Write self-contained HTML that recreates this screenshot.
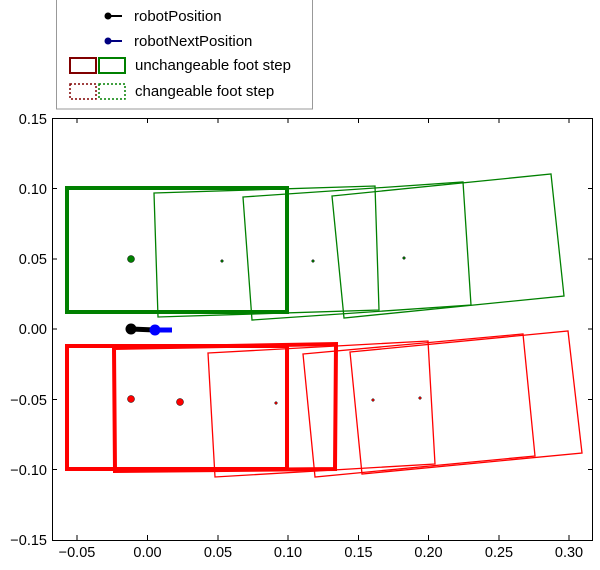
<!DOCTYPE html>
<html><head><style>
html,body{margin:0;padding:0;background:#fff;}
svg text{font-family:"Liberation Sans",sans-serif;fill:#000;}
</style></head><body>
<svg width="600" height="565" viewBox="0 0 600 565" xmlns="http://www.w3.org/2000/svg">
<rect width="600" height="565" fill="#fff"/>
<!-- legend -->
<rect x="56.5" y="-2" width="256" height="111" fill="#fff" stroke="#999" stroke-width="1"/>
<line x1="108" y1="16" x2="122" y2="16" stroke="#000" stroke-width="2"/><circle cx="108" cy="16" r="3.5" fill="#000"/>
<text x="134" y="21" font-size="15">robotPosition</text>
<line x1="108" y1="41" x2="122" y2="41" stroke="#000080" stroke-width="2"/><circle cx="108" cy="41" r="3.5" fill="#000080"/>
<text x="134" y="46" font-size="15">robotNextPosition</text>
<rect x="70" y="58" width="26" height="15" fill="none" stroke="#800000" stroke-width="2"/>
<rect x="99" y="58" width="26" height="15" fill="none" stroke="#008000" stroke-width="2"/>
<text x="135" y="70" font-size="15">unchangeable foot step</text>
<rect x="70" y="84" width="26" height="15" fill="none" stroke="#800000" stroke-width="1.5" stroke-dasharray="2,2"/>
<rect x="99" y="84" width="26" height="15" fill="none" stroke="#008000" stroke-width="1.5" stroke-dasharray="2,2"/>
<text x="135" y="96" font-size="15">changeable foot step</text>

<!-- axes -->
<rect x="52.5" y="118.5" width="540" height="422" fill="none" stroke="#000" stroke-width="1"/>
<g stroke="#000" stroke-width="1">
<line x1="77" y1="118" x2="77" y2="123"/><line x1="147.5" y1="118" x2="147.5" y2="123"/><line x1="218" y1="118" x2="218" y2="123"/><line x1="288" y1="118" x2="288" y2="123"/><line x1="358.5" y1="118" x2="358.5" y2="123"/><line x1="428.5" y1="118" x2="428.5" y2="123"/><line x1="499" y1="118" x2="499" y2="123"/><line x1="569" y1="118" x2="569" y2="123"/>
<line x1="77" y1="540" x2="77" y2="535"/><line x1="147.5" y1="540" x2="147.5" y2="535"/><line x1="218" y1="540" x2="218" y2="535"/><line x1="288" y1="540" x2="288" y2="535"/><line x1="358.5" y1="540" x2="358.5" y2="535"/><line x1="428.5" y1="540" x2="428.5" y2="535"/><line x1="499" y1="540" x2="499" y2="535"/><line x1="569" y1="540" x2="569" y2="535"/>
<line x1="52" y1="188.5" x2="57" y2="188.5"/><line x1="52" y1="259" x2="57" y2="259"/><line x1="52" y1="329" x2="57" y2="329"/><line x1="52" y1="399.5" x2="57" y2="399.5"/><line x1="52" y1="469.5" x2="57" y2="469.5"/>
<line x1="593" y1="188.5" x2="588" y2="188.5"/><line x1="593" y1="259" x2="588" y2="259"/><line x1="593" y1="329" x2="588" y2="329"/><line x1="593" y1="399.5" x2="588" y2="399.5"/><line x1="593" y1="469.5" x2="588" y2="469.5"/>
</g>
<g font-size="14.5" text-anchor="end">
<text x="47" y="124">0.15</text><text x="47" y="194">0.10</text><text x="47" y="264">0.05</text><text x="47" y="334">0.00</text>
<text x="47" y="405">−0.05</text><text x="47" y="475">−0.10</text><text x="47" y="545">−0.15</text>
</g>
<g font-size="14.5" text-anchor="middle">
<text x="77" y="557">−0.05</text><text x="147.5" y="557">0.00</text><text x="218" y="557">0.05</text><text x="288" y="557">0.10</text><text x="358.5" y="557">0.15</text><text x="428.5" y="557">0.20</text><text x="499" y="557">0.25</text><text x="569" y="557">0.30</text>
</g>

<!-- green -->
<g fill="none" stroke="#008000">
<rect x="67" y="188" width="220" height="124" stroke-width="4"/>
<polygon points="154,193 375,186 379,310 158,317" stroke-width="1.3"/>
<polygon points="243,197 463,182 471,305 252,320" stroke-width="1.3"/>
<polygon points="332,196 551,174 564,296 344,318" stroke-width="1.3"/>
</g>
<circle cx="131" cy="259" r="3.5" fill="#008000" stroke="#000" stroke-width="0.5"/>
<circle cx="222" cy="261" r="1.3" fill="#008000" stroke="#000" stroke-width="0.5"/>
<circle cx="313" cy="261" r="1.3" fill="#008000" stroke="#000" stroke-width="0.5"/>
<circle cx="404" cy="258" r="1.3" fill="#008000" stroke="#000" stroke-width="0.5"/>

<!-- red -->
<g fill="none" stroke="#ff0000">
<rect x="67" y="346" width="220" height="123" stroke-width="4"/>
<polygon points="114,348 336,344 335,469 115,471" stroke-width="4"/>
<polygon points="208,353 428,341 435,464 215,477" stroke-width="1.3"/>
<polygon points="303,354 523,334 535,456 315,477" stroke-width="1.3"/>
<polygon points="350,352 568,331 582,453 362,474" stroke-width="1.3"/>
</g>
<circle cx="131" cy="399" r="3.5" fill="#ff0000" stroke="#000" stroke-width="0.5"/>
<circle cx="180" cy="402" r="3.5" fill="#ff0000" stroke="#000" stroke-width="0.5"/>
<circle cx="276" cy="403" r="1.3" fill="#ff0000" stroke="#000" stroke-width="0.5"/>
<circle cx="373" cy="400" r="1.3" fill="#ff0000" stroke="#000" stroke-width="0.5"/>
<circle cx="420" cy="398" r="1.3" fill="#ff0000" stroke="#000" stroke-width="0.5"/>

<!-- robot -->
<line x1="131" y1="329" x2="155" y2="330" stroke="#000" stroke-width="5"/>
<circle cx="131" cy="329" r="5.5" fill="#000"/>
<line x1="155" y1="330" x2="172" y2="330" stroke="#0000ff" stroke-width="5"/>
<circle cx="155" cy="330" r="5.5" fill="#0000ff"/>
</svg>
</body></html>
